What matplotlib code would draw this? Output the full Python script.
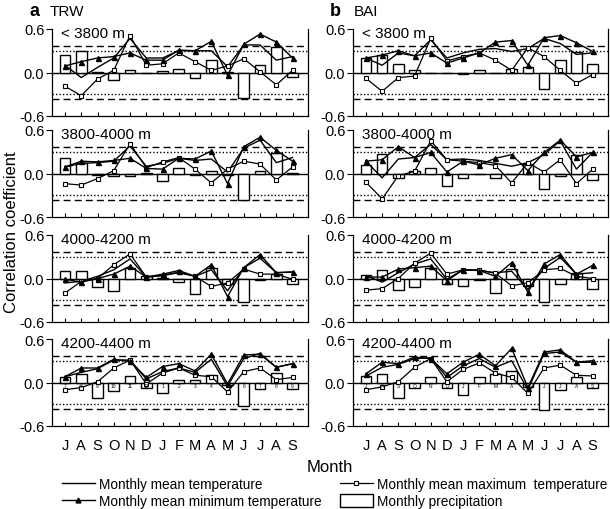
import matplotlib
matplotlib.use("Agg")
import matplotlib.pyplot as plt
from matplotlib.lines import Line2D
from matplotlib.patches import Rectangle
import numpy as np

plt.rcParams['font.family'] = ['Liberation Sans', 'DejaVu Sans']

months = ['J', 'A', 'S', 'O', 'N', 'D', 'J', 'F', 'M', 'A', 'M', 'J', 'J', 'A', 'S']
bar_labels_trw = ['7', '8', '9', '10', '11', '12', '1', '2', '3', '4', '5', '6', '7', '8', '9']
bar_labels_bai = ['J', 'A', 'S', 'O', 'N', 'D', 'J', 'F', 'M', 'A', 'M', 'J', 'J', 'A', 'S']
elevations = ['< 3800 m', '3800-4000 m', '4000-4200 m', '4200-4400 m']

# TRW
trw_mean = [
    [0.10, -0.07, 0.07, 0.20, 0.47, 0.20, 0.20, 0.30, 0.30, 0.30, 0.08, 0.38, 0.38, 0.17, 0.22],
    [0.09, 0.14, 0.15, 0.17, 0.38, 0.10, 0.14, 0.21, 0.18, 0.20, 0.02, 0.35, 0.46, 0.15, 0.22],
    [-0.06, -0.04, 0.03, 0.12, 0.27, 0.02, 0.04, 0.08, 0.03, 0.12, -0.17, 0.15, 0.28, 0.08, 0.09],
    [0.08, 0.14, 0.19, 0.31, 0.31, 0.05, 0.15, 0.20, 0.14, 0.32, -0.05, 0.33, 0.40, 0.21, 0.26],
]
trw_min = [
    [0.09, 0.15, 0.20, 0.22, 0.27, 0.17, 0.17, 0.31, 0.30, 0.43, -0.04, 0.39, 0.53, 0.42, 0.20],
    [0.09, 0.17, 0.16, 0.18, 0.21, 0.07, 0.06, 0.21, 0.20, 0.31, -0.14, 0.37, 0.50, 0.32, 0.17],
    [-0.01, -0.05, 0.00, 0.06, 0.17, 0.02, 0.06, 0.11, 0.03, 0.19, -0.25, 0.15, 0.33, 0.08, 0.09],
    [0.08, 0.20, 0.20, 0.32, 0.29, 0.07, 0.22, 0.26, 0.16, 0.39, -0.02, 0.38, 0.39, 0.21, 0.26],
]
trw_max = [
    [-0.19, -0.32, -0.09, 0.03, 0.51, 0.10, 0.12, 0.27, 0.15, 0.03, 0.09, 0.19, 0.01, -0.17, 0.03],
    [-0.14, -0.16, -0.07, 0.04, 0.41, 0.08, 0.16, 0.22, 0.06, -0.13, 0.06, 0.17, 0.13, -0.09, 0.09],
    [-0.20, -0.04, 0.00, 0.19, 0.34, 0.02, 0.04, 0.09, 0.03, -0.11, -0.06, 0.13, 0.06, 0.06, -0.01],
    [-0.10, -0.07, 0.01, 0.20, 0.31, -0.02, 0.13, 0.20, 0.10, 0.08, -0.13, 0.15, 0.20, 0.04, 0.07],
]
trw_pre = [
    [0.24, 0.29, 0.01, -0.10, 0.04, -0.01, 0.02, 0.05, -0.08, 0.17, 0.01, -0.35, 0.11, 0.35, -0.06],
    [0.22, 0.15, -0.02, -0.04, -0.04, 0.01, -0.10, 0.07, -0.02, 0.03, -0.02, -0.37, 0.03, 0.28, 0.01],
    [0.10, 0.11, -0.12, -0.17, 0.14, 0.03, 0.01, -0.05, -0.22, 0.14, -0.07, -0.33, -0.02, 0.06, -0.07],
    [0.07, 0.12, -0.22, -0.12, 0.09, -0.07, -0.15, 0.03, 0.04, 0.10, -0.04, -0.33, -0.09, 0.13, -0.09],
]

# BAI
bai_mean = [
    [0.20, 0.10, 0.27, 0.23, 0.45, 0.20, 0.27, 0.32, 0.33, 0.29, 0.33, 0.47, 0.40, 0.25, 0.27],
    [0.17, -0.06, 0.20, 0.22, 0.40, 0.19, 0.20, 0.18, 0.14, 0.10, 0.15, 0.26, 0.45, 0.06, 0.29],
    [0.04, -0.05, 0.08, 0.20, 0.27, -0.01, 0.12, 0.11, 0.08, 0.10, -0.15, 0.14, 0.29, 0.06, 0.08],
    [0.09, 0.21, 0.25, 0.33, 0.34, 0.07, 0.23, 0.33, 0.21, 0.30, -0.10, 0.40, 0.42, 0.28, 0.28],
]
bai_min = [
    [0.20, 0.24, 0.30, 0.23, 0.27, 0.13, 0.20, 0.27, 0.42, 0.44, 0.10, 0.48, 0.51, 0.41, 0.29],
    [0.17, 0.19, 0.37, 0.22, 0.29, 0.02, 0.17, 0.12, 0.21, 0.26, 0.04, 0.29, 0.46, 0.23, 0.29],
    [0.02, 0.02, 0.13, 0.15, 0.17, -0.03, 0.12, 0.11, 0.03, 0.22, -0.19, 0.20, 0.33, 0.06, 0.18],
    [0.12, 0.28, 0.26, 0.35, 0.33, 0.12, 0.28, 0.39, 0.23, 0.47, -0.07, 0.42, 0.45, 0.28, 0.30],
]
bai_max = [
    [-0.08, -0.26, -0.07, -0.05, 0.47, 0.16, 0.22, 0.27, 0.17, 0.03, 0.34, 0.22, 0.03, -0.15, -0.03],
    [-0.12, -0.35, -0.03, 0.03, 0.45, 0.19, 0.17, 0.15, 0.11, -0.13, 0.15, 0.02, 0.19, -0.14, 0.06],
    [-0.16, -0.14, 0.00, 0.21, 0.35, 0.06, 0.12, 0.12, 0.07, -0.10, -0.06, 0.12, 0.14, 0.03, 0.00],
    [-0.10, -0.06, 0.01, 0.21, 0.33, 0.01, 0.18, 0.27, 0.13, 0.07, -0.15, 0.20, 0.24, 0.10, 0.09],
]
bai_pre = [
    [0.20, 0.24, 0.12, 0.04, -0.01, -0.01, -0.02, 0.03, -0.01, 0.05, 0.08, -0.23, 0.17, 0.28, 0.12],
    [0.12, 0.27, -0.06, 0.03, 0.07, -0.17, -0.06, -0.01, -0.06, 0.00, 0.13, -0.22, -0.04, 0.25, -0.09],
    [0.05, 0.12, -0.16, -0.12, 0.14, -0.07, -0.10, -0.02, -0.20, 0.13, -0.10, -0.33, -0.07, 0.07, -0.15],
    [0.09, 0.12, -0.21, -0.07, 0.08, -0.07, -0.17, 0.08, 0.12, 0.16, -0.06, -0.38, -0.10, 0.08, -0.08],
]

sig95 = 0.30
sig99 = 0.37

fig = plt.figure(figsize=(6.1, 5.1), dpi=100)

col_x = [52 / 610, 353 / 610]
col_w = [256 / 610, 255 / 610]
row_bottom_px = [117, 218, 323, 427]
row_h = 87 / 510

x = np.arange(len(months))

def draw_panel(ax, mean, mn, mx, pre, label, bottom, bar_labels):
    ax.bar(x, pre, width=0.66, facecolor='white', edgecolor='black', linewidth=1.0, zorder=2)
    ax.axhline(0, color='black', lw=1.0, zorder=1.5)
    for v in (sig99, -sig99):
        ax.axhline(v, color='black', lw=1.0, ls=(0, (5, 3)), zorder=1)
    for v in (sig95, -sig95):
        ax.axhline(v, color='black', lw=1.0, ls=(0, (1, 1.5)), zorder=1)
    ax.plot(x, mean, color='black', lw=1.0, zorder=3)
    ax.plot(x, mx, color='black', lw=0.9, marker='s', ms=3.2, mfc='white', mec='black', mew=0.8, zorder=3.5, clip_on=False)
    ax.plot(x, mn, color='black', lw=1.0, marker='^', ms=3.6, mfc='black', mec='black', zorder=4, clip_on=False)
    ax.set_xlim(-0.8, 14.95)
    ax.set_ylim(-0.6, 0.6)
    ax.set_yticks([-0.6, 0.0, 0.6])
    ax.set_yticklabels(['-0.6', '0.0', '0.6'], fontsize=10.5)
    ax.set_xticks(x)
    if bottom:
        ax.set_xticklabels(months, fontsize=10.5)
        for xi, t in zip(x, bar_labels):
            ax.text(xi, -0.045, t, fontsize=3.5, ha='center', va='center', zorder=5)
    else:
        ax.set_xticklabels([])
    ax.tick_params(axis='x', direction='in', length=3, width=0.8, pad=9)
    ax.tick_params(axis='y', direction='out', length=4, width=0.8, pad=1.5)
    ax.spines['top'].set_visible(False)
    for s in ('left', 'bottom', 'right'):
        ax.spines[s].set_linewidth(0.9)
    ax.text(0.035, 1.03, label, transform=ax.transAxes, fontsize=11, ha='left', va='top')

for r in range(4):
    b = 1 - row_bottom_px[r] / 510
    ax = fig.add_axes([col_x[0], b, col_w[0], row_h])
    draw_panel(ax, trw_mean[r], trw_min[r], trw_max[r], trw_pre[r], elevations[r], r == 3, bar_labels_trw)
    ax = fig.add_axes([col_x[1], b, col_w[1], row_h])
    draw_panel(ax, bai_mean[r], bai_min[r], bai_max[r], bai_pre[r], elevations[r], r == 3, bar_labels_bai)

fig.text(30 / 610, 1 - 12 / 510, 'a', fontsize=13, fontweight='bold', ha='left', va='center')
fig.text(50 / 610, 1 - 12 / 510, 'TRW', fontsize=11, ha='left', va='center')
fig.text(330 / 610, 1 - 12 / 510, 'b', fontsize=13, fontweight='bold', ha='left', va='center')
fig.text(354 / 610, 1 - 12 / 510, 'BAI', fontsize=11, ha='left', va='center')

fig.text(12 / 610, 1 - 232 / 510, 'Correlation coefficient', fontsize=12, rotation=90, ha='center', va='center')
fig.text(330 / 610, 1 - 468 / 510, 'Month', fontsize=12, ha='center', va='center')

h_mean = Line2D([], [], color='black', lw=1.0)
h_min = Line2D([], [], color='black', lw=1.0, marker='^', ms=3.5, mfc='black')
h_max = Line2D([], [], color='black', lw=0.9, marker='s', ms=3, mfc='white', mew=0.8)
h_pre = Rectangle((0, 0), 1, 1, facecolor='white', edgecolor='black', lw=1.0)

common = dict(loc='upper left', frameon=False, fontsize=9.8, handlelength=2.4,
              handletextpad=0.35, labelspacing=0.2, borderpad=0, borderaxespad=0)
leg1 = fig.legend([h_mean, h_min], ['Monthly mean temperature', 'Monthly mean minimum temperature'],
                  bbox_to_anchor=(62 / 610, 1 - 478 / 510), **common)
leg2 = fig.legend([h_max, h_pre], ['Monthly mean maximum  temperature', 'Monthly precipitation'],
                  bbox_to_anchor=(340 / 610, 1 - 478 / 510), handleheight=1.1, **common)

fig.savefig('out.png', dpi=100)
